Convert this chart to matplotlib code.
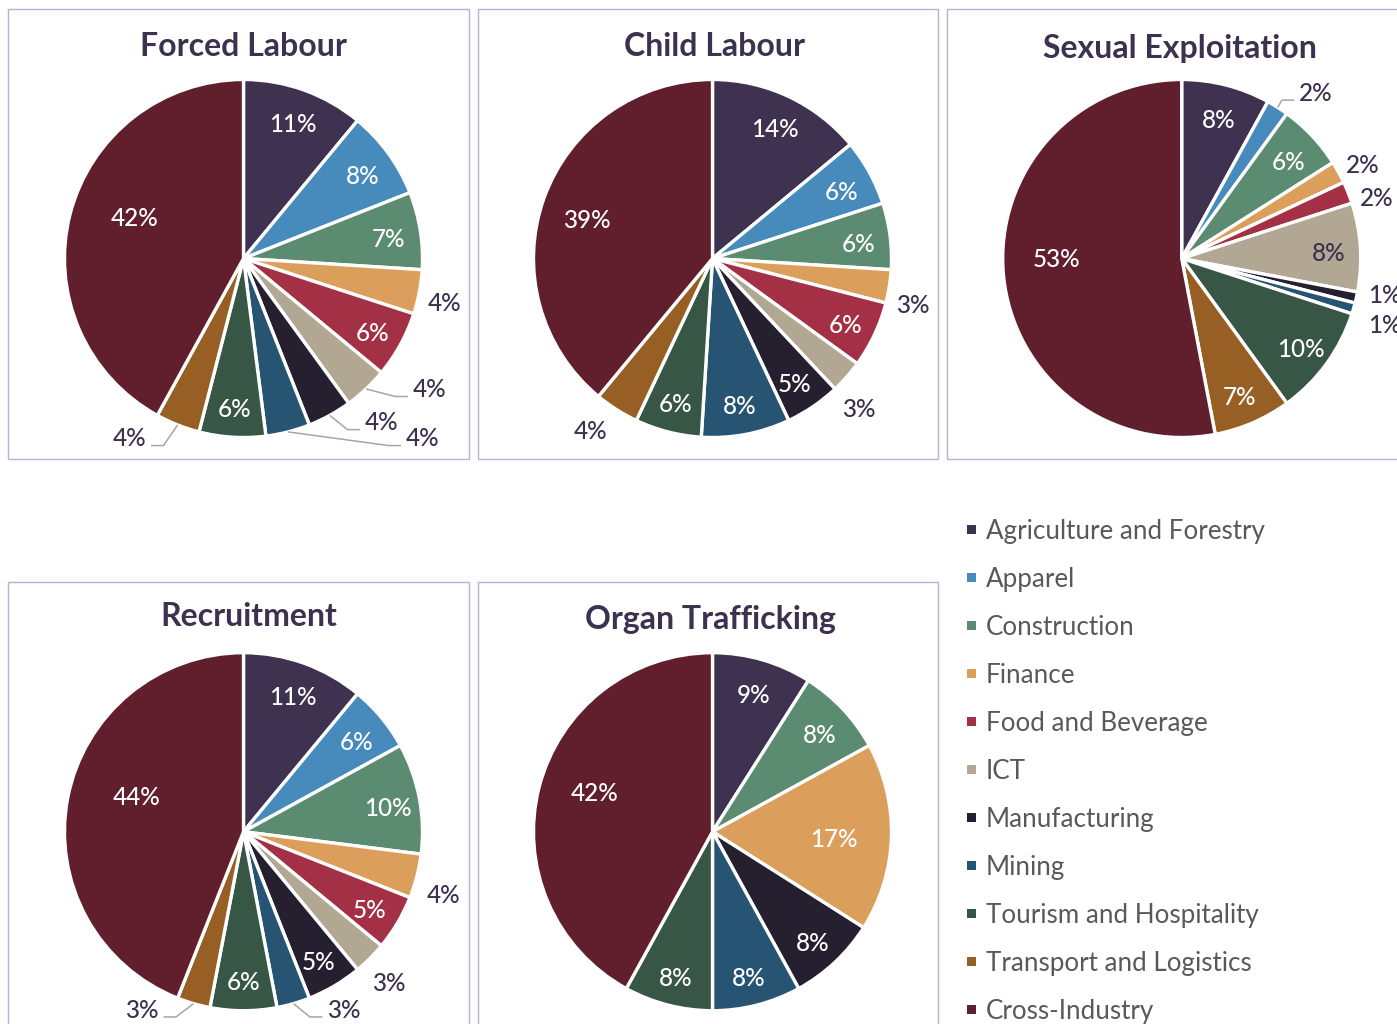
import matplotlib
matplotlib.use('Agg')
import matplotlib.pyplot as plt
from matplotlib.patches import Rectangle
import numpy as np

# ---------------- data ----------------
categories = ['Agriculture and Forestry', 'Apparel', 'Construction', 'Finance',
              'Food and Beverage', 'ICT', 'Manufacturing', 'Mining',
              'Tourism and Hospitality', 'Transport and Logistics', 'Cross-Industry']
colors = ['#3f3150', '#478bbd', '#5b8c71', '#dc9e5b', '#a33044', '#b1a793',
          '#251f30', '#285473', '#375645', '#975f23', '#611e2d']

chart_titles = ['Forced Labour', 'Child Labour', 'Sexual Exploitation',
                'Recruitment', 'Organ Trafficking']
forced_labour = [11, 8, 7, 4, 6, 4, 4, 4, 6, 4, 42]
child_labour = [14, 6, 6, 3, 6, 3, 5, 8, 6, 4, 39]
sexual_exploitation = [8, 2, 6, 2, 2, 8, 1, 1, 10, 7, 53]
recruitment = [11, 6, 10, 4, 5, 3, 5, 3, 6, 3, 44]
organ_trafficking = [9, 0, 8, 17, 0, 0, 8, 8, 8, 0, 42]
series = [forced_labour, child_labour, sexual_exploitation, recruitment, organ_trafficking]

# ---------------- layout / style ----------------
W, H = 1397, 1024
R = 179.0  # pie radius in px
TITLE_C = '#3d3150'
LABEL_DARK = '#3d3150'
BOX_C = '#b9b0d4'
LEADER_C = '#a6a6a6'
FONT = ['Lato', 'DejaVu Sans']
LBL_SIZE = 17.5

panels = [
    dict(box=(8, 9, 469, 459), center=(243.5, 258.5), title=(243.5, 55.5)),
    dict(box=(478, 9, 938, 459), center=(712.5, 258.5), title=(714, 55.5)),
    dict(box=(947, 9, 1420, 459), center=(1181.7, 258.5), title=(1180, 58)),
    dict(box=(8, 582, 469, 1040), center=(243.5, 831.7), title=(249, 625.5)),
    dict(box=(478, 582, 938, 1040), center=(712.5, 831.7), title=(710, 629)),
]

# label placement (units of radius, relative to centre); outside ones carry a leader flag
outside = [
    {'Finance': (1.123, -0.246, False), 'ICT': (1.039, -0.726, True),
     'Manufacturing': (0.771, -0.911, True), 'Mining': (1.0, -1.0, True),
     'Transport and Logistics': (-0.637, -1.0, True)},
    {'Finance': (1.12, -0.254, False), 'ICT': (0.818, -0.835, False),
     'Transport and Logistics': (-0.679, -0.958, False)},
    {'Apparel': (0.75, 0.93, True), 'Finance': (1.013, 0.528, False),
     'Food and Beverage': (1.092, 0.344, False),
     'Manufacturing': (1.134, -0.198, False), 'Mining': (1.134, -0.366, False)},
    {'Finance': (1.12, -0.349, False), 'ICT': (0.813, -0.839, False),
     'Mining': (0.561, -0.99, True), 'Transport and Logistics': (-0.567, -0.99, True)},
    {},
]
big_label = [(-0.61, 0.229), (-0.701, 0.221), (-0.697, 0.003), (-0.597, 0.197), (-0.659, 0.223)]

fig = plt.figure(figsize=(W / 100, H / 100), dpi=100)
fig.patch.set_facecolor('white')


def fx(x):
    return x / W


def fy(y):
    return 1 - y / H


def put_label(ax, x, y, txt, col, extra=0.0):
    # vertically centre the digits on (x, y)
    ax.annotate(txt, (x, y), xytext=(0, -0.36 * LBL_SIZE - extra), textcoords='offset points',
                ha='center', va='baseline', fontsize=LBL_SIZE, color=col,
                family=FONT, fontweight='medium', annotation_clip=False)


# boxes
for p in panels:
    l, t, r, b = p['box']
    fig.add_artist(Rectangle((fx(l), fy(b)), fx(r) - fx(l), fy(t) - fy(b),
                             transform=fig.transFigure, fill=False,
                             edgecolor=BOX_C, linewidth=1.0, zorder=0))

S = 1.4
for i, p in enumerate(panels):
    cx, cy = p['center']
    half = S * R
    ax = fig.add_axes([fx(cx - half), fy(cy + half), 2 * half / W, 2 * half / H])
    vals = series[i]
    idx = [k for k, v in enumerate(vals) if v > 0]
    v = [vals[k] for k in idx]
    c = [colors[k] for k in idx]
    wedges, _ = ax.pie(v, colors=c, startangle=90, counterclock=False, radius=1,
                       wedgeprops=dict(edgecolor='white', linewidth=2.4))
    ax.set_xlim(-S, S)
    ax.set_ylim(-S, S)
    ax.set_aspect('equal')
    ax.axis('off')

    for w, k, val in zip(wedges, idx, v):
        cat = categories[k]
        mid = np.deg2rad((w.theta1 + w.theta2) / 2)
        txt = f'{val}%'
        if cat in outside[i]:
            lx, ly, leader = outside[i][cat]
            put_label(ax, lx, ly, txt, LABEL_DARK)
            if leader:
                sx, sy = np.cos(mid), np.sin(mid)
                side = 1 if lx > sx else -1
                ex = lx - side * 0.12
                ey = ly - 0.045
                elx = ex - side * 0.07
                ax.plot([sx, elx, ex], [sy, ey, ey], color=LEADER_C, lw=1.1,
                        clip_on=False, solid_capstyle='butt')
        elif cat == 'Cross-Industry':
            bx, by = big_label[i]
            put_label(ax, bx, by, txt, 'white')
        else:
            rr = 0.82 if val < 15 else 0.68
            col = LABEL_DARK if cat == 'ICT' else 'white'
            put_label(ax, rr * np.cos(mid), rr * np.sin(mid), txt, col, extra=2.2)

    tx, ty = p['title']
    fig.text(fx(tx), fy(ty), chart_titles[i], ha='center', va='baseline',
             fontsize=23, fontweight='bold', color=TITLE_C, family=FONT)

# legend
for j, (cat, col) in enumerate(zip(categories, colors)):
    yc = 529.5 + j * 48
    fig.add_artist(Rectangle((fx(966.5), fy(yc + 4.7)), 9.5 / W, 9.5 / H,
                             transform=fig.transFigure, facecolor=col,
                             edgecolor='none'))
    fig.text(fx(985.5), fy(yc + 9.5), cat, ha='left', va='baseline', fontsize=18.7,
             color='#595959', family=FONT)

fig.savefig('out.png', dpi=100, facecolor='white')
